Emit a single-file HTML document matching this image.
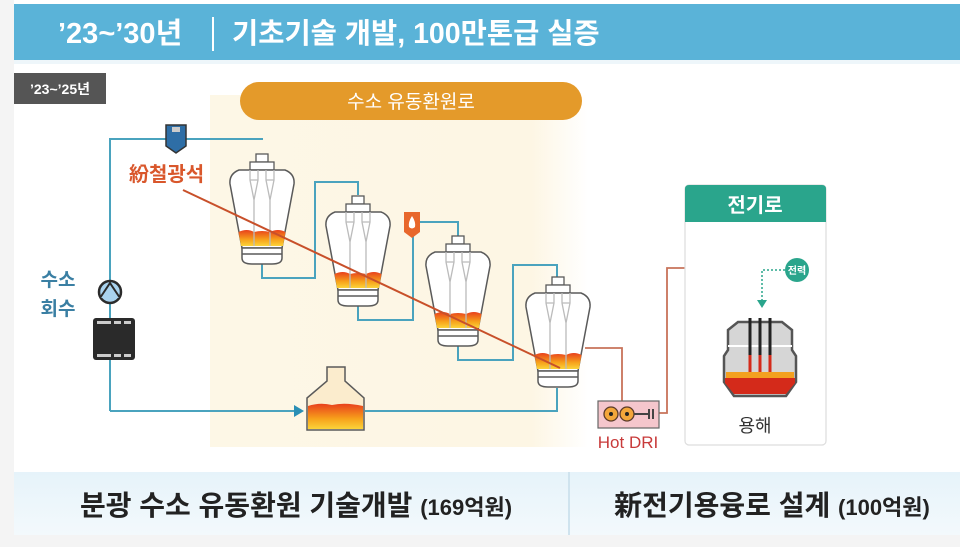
<!DOCTYPE html>
<html><head><meta charset="utf-8"><style>
html,body{margin:0;padding:0;background:#fff;}
body{width:960px;height:547px;overflow:hidden;font-family:"Liberation Sans","Noto Sans CJK KR",sans-serif;}
</style></head><body>
<svg width="960" height="547" viewBox="0 0 960 547" xmlns="http://www.w3.org/2000/svg" font-family="'Liberation Sans','Noto Sans CJK KR',sans-serif">
<defs>
<linearGradient id="fire" x1="0" y1="0" x2="0" y2="1">
<stop offset="0" stop-color="#e8401c"/><stop offset="0.6" stop-color="#f7a21b"/><stop offset="1" stop-color="#fbd33a"/></linearGradient>
<linearGradient id="cream" x1="0" y1="0" x2="1" y2="0">
<stop offset="0" stop-color="#fdf7e6"/><stop offset="0.85" stop-color="#fdf6e4"/><stop offset="1" stop-color="#ffffff"/></linearGradient>
<linearGradient id="bot" x1="0" y1="0" x2="0" y2="1">
<stop offset="0" stop-color="#e6f3fa"/><stop offset="1" stop-color="#f3f9fc"/></linearGradient>
<g id="reactor">
<rect x="-6" y="-16" width="12" height="8" fill="#fff" stroke="#5a5a5a" stroke-width="1.3"/>
<rect x="-12" y="-8" width="24" height="8" fill="#fff" stroke="#5a5a5a" stroke-width="1.3"/>
<path d="M-23,0 L23,0 Q33,4 32,14 L20,78 L-20,78 L-32,14 Q-33,4 -23,0Z" fill="#fff" stroke="#5a5a5a" stroke-width="1.5"/>
<path d="M-23.5,62 Q-15,58 -8,62 Q0,60 8,62 Q16,58 23.5,62 L21,76 L-21,76Z" fill="url(#fire)"/>
<path d="M-20,78 L20,78 L20,88 Q20,94 10,94 L-10,94 Q-20,94 -20,88Z" fill="#fff" stroke="#5a5a5a" stroke-width="1.5"/>
<line x1="-20" y1="84" x2="20" y2="84" stroke="#5a5a5a" stroke-width="1.5"/>
<path d="M-12,0 L-12,10 L-8,30 L-8,76 M-4,0 L-4,10 L-8,30 M4,0 L4,10 L8,30 L8,76 M12,0 L12,10 L8,30 M-12,10 L-4,10 M4,10 L12,10" fill="none" stroke="#bbb" stroke-width="1.3"/>
</g>
</defs>
<rect width="960" height="547" fill="#fff"/>
<rect x="0" y="0" width="14" height="547" fill="#f4f4f4"/>
<rect x="14" y="4" width="946" height="56" fill="#5ab3d8"/>
<text x="58" y="43" font-size="29" font-weight="bold" fill="#fff">’23~’30년</text>
<rect x="212" y="17" width="2" height="34" fill="#fff"/>
<text x="232" y="43" font-size="28.5" font-weight="bold" fill="#fff">기초기술 개발, 100만톤급 실증</text>
<rect x="14" y="60" width="946" height="4" fill="#eef6fa"/>
<rect x="14" y="73" width="92" height="31" fill="#555"/>
<text x="60" y="94" font-size="14" font-weight="bold" fill="#fff" text-anchor="middle">’23~’25년</text>
<rect x="210" y="95" width="378" height="352" fill="url(#cream)"/>
<rect x="240" y="82" width="342" height="38" rx="19" fill="#e49a2a"/>
<text x="411" y="108" font-size="19" fill="#fff" text-anchor="middle">수소 유동환원로</text>
<g fill="none" stroke="#4aa3be" stroke-width="2">
<path d="M110,411 L110,139 L262,139 L262,140"/>
<path d="M262,262 L262,278 L315,278 L315,182 L358,182 L358,195"/>
<path d="M358,305 L358,320 L413,320 L413,225"/>
<path d="M418,222 L458,222 L458,236"/>
<path d="M458,345 L458,360 L513,360 L513,265 L557,265 L557,278"/>
<path d="M557,388 L557,411 L365,411"/>
<path d="M110,411 L296,411"/>
</g>
<path d="M294,405 L304,411 L294,417Z" fill="#2a8fb5"/>
<path d="M166,125 L186,125 L186,146 L176,153 L166,146Z" fill="#2e6ea6" stroke="#333" stroke-width="1.5"/>
<rect x="172" y="127" width="8" height="5" fill="#ccc"/>
<circle cx="110" cy="292" r="11" fill="#a9d3ef" stroke="#2b2b2b" stroke-width="2.5"/>
<path d="M100,298 L110,283 L120,298" fill="#a9d3ef" stroke="#2b2b2b" stroke-width="2"/>
<rect x="93" y="318" width="42" height="42" rx="3" fill="#2a2a2a"/>
<g fill="#ccc"><rect x="97" y="321" width="14" height="3"/><rect x="114" y="321" width="7" height="3"/><rect x="124" y="321" width="7" height="3"/>
<rect x="97" y="354" width="14" height="3"/><rect x="114" y="354" width="7" height="3"/><rect x="124" y="354" width="7" height="3"/></g>
<text x="58" y="286" font-size="19" font-weight="bold" fill="#3a7fa3" text-anchor="middle">수소</text>
<text x="58" y="315" font-size="19" font-weight="bold" fill="#3a7fa3" text-anchor="middle">회수</text>
<text x="129" y="181" font-size="20" font-weight="bold" fill="#d9572c">紛철광석</text>
<use href="#reactor" x="262" y="170"/>
<use href="#reactor" x="358" y="212"/>
<use href="#reactor" x="458" y="252"/>
<use href="#reactor" x="558" y="293"/>
<line x1="183" y1="190" x2="560" y2="368" stroke="#c8502a" stroke-width="2"/>
<path d="M404,212 L420,212 L420,232 L412,238 L404,232Z" fill="#e8672c"/>
<path d="M412,216 Q416,222 415,227 Q412,230 409,227 Q408,222 412,216Z" fill="#fff"/>
<path d="M327,367 L345,367 L345,381 L364,398 L364,430 L307,430 L307,398 L327,381Z" fill="#fbeccd" stroke="#5a5a5a" stroke-width="1.5"/>
<path d="M308,406 Q320,402 332,405 Q345,402 363,406 L363,429 L308,429Z" fill="url(#fire)"/>
<g fill="none" stroke="#c8735a" stroke-width="1.8">
<path d="M585,348 L622,348 L622,401"/>
<path d="M659,413 L667,413 L667,268 L748,268 L748,300"/>
</g>
<path d="M743,300 L753,300 L748,308Z" fill="#d9572c"/>
<rect x="598" y="401" width="61" height="27" fill="#f5c6cc" stroke="#666" stroke-width="1.2"/>
<circle cx="611" cy="414" r="7" fill="#f3a63a" stroke="#5a3a2a" stroke-width="1.3"/><circle cx="611" cy="414" r="2" fill="#222"/>
<circle cx="627" cy="414" r="7" fill="#f3a63a" stroke="#5a3a2a" stroke-width="1.3"/><circle cx="627" cy="414" r="2" fill="#222"/>
<line x1="634" y1="414" x2="648" y2="414" stroke="#444" stroke-width="2"/>
<rect x="648" y="409" width="2" height="10" fill="#444"/><rect x="652" y="409" width="2" height="10" fill="#444"/>
<text x="628" y="448" font-size="17" fill="#c83a3a" text-anchor="middle">Hot DRI</text>
<rect x="685" y="185" width="141" height="260" rx="4" fill="#fff" stroke="#ddd" stroke-width="1.2"/>
<path d="M685,222 L685,189 Q685,185 689,185 L822,185 Q826,185 826,189 L826,222Z" fill="#2aa58c"/>
<text x="755" y="212" font-size="20" font-weight="bold" fill="#fff" text-anchor="middle">전기로</text>
<circle cx="797" cy="270" r="12" fill="#2aa58c"/>
<text x="797" y="274" font-size="10" font-weight="bold" fill="#fff" text-anchor="middle">전력</text>
<path d="M785,270 L762,270 L762,300" fill="none" stroke="#2aa58c" stroke-width="1.5" stroke-dasharray="2,2"/>
<path d="M757,300 L767,300 L762,308Z" fill="#2aa58c"/>
<path d="M728,330 L738,322 L782,322 L792,330 L792,350 L796,356 L796,382 L786,396 L734,396 L724,382 L724,356 L728,350Z" fill="#d6d6d6" stroke="#555" stroke-width="2.5"/>
<line x1="728" y1="346" x2="792" y2="346" stroke="#fff" stroke-width="2"/>
<rect x="726" y="372" width="68" height="6" fill="#f3a020"/>
<path d="M725,378 L795,378 L795,383 L786,394 L734,394 L725,383Z" fill="#d42a1a"/>
<g stroke-width="3"><line x1="750" y1="318" x2="750" y2="372" stroke="#222"/><line x1="760" y1="318" x2="760" y2="372" stroke="#222"/><line x1="770" y1="318" x2="770" y2="372" stroke="#222"/></g>
<g stroke-width="3" stroke="#d42a1a"><line x1="750" y1="355" x2="750" y2="372"/><line x1="760" y1="355" x2="760" y2="372"/><line x1="770" y1="355" x2="770" y2="372"/></g>
<text x="755" y="432" font-size="18" fill="#333" text-anchor="middle">용해</text>
<rect x="14" y="472" width="946" height="63" fill="url(#bot)"/>
<rect x="568" y="472" width="2" height="63" fill="#cfe3ee"/>
<text x="296" y="515" font-size="28" font-weight="bold" fill="#222" text-anchor="middle">분광 수소 유동환원 기술개발 <tspan font-size="22">(169억원)</tspan></text>
<text x="772" y="515" font-size="28" font-weight="bold" fill="#222" text-anchor="middle">新전기용융로 설계 <tspan font-size="22">(100억원)</tspan></text>
<rect x="14" y="535" width="946" height="12" fill="#f4f4f4"/>
</svg>
</body></html>
